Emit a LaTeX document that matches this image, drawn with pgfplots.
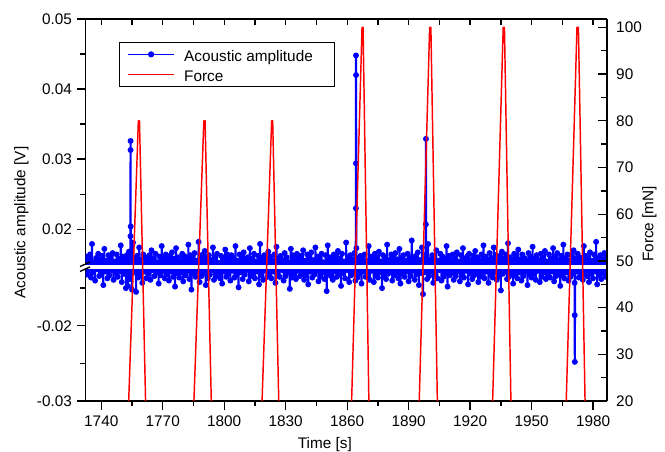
\documentclass[border=0pt]{standalone}
\usepackage{fontspec}
\setmainfont{Liberation Sans}
\usepackage{pgfplots}
\usepackage{pgfplotstable}
\pgfplotsset{compat=1.18}

\definecolor{ablue}{RGB}{0,0,255}
\definecolor{fred}{RGB}{255,0,0}

% acoustic amplitude: time [s], amplitude [V]
\pgfplotstableread[row sep=\\]{
t y\\
1732.5 0.0161\\ 1733 -0.0132\\ 1733.5 0.0156\\ 1734 -0.0127\\ 1734.5 0.0164\\ 1735 -0.0136\\ 1735.5 0.0179\\ 1736 -0.0129\\ 1736.5 0.0153\\ 1737 -0.0140\\
1737.5 0.0159\\ 1738 -0.0125\\ 1738.5 0.0165\\ 1739 -0.0134\\ 1739.5 0.0157\\ 1740 -0.0131\\ 1740.5 0.0162\\ 1741 -0.0146\\ 1741.5 0.0172\\ 1742 -0.0128\\
1742.5 0.0155\\ 1743 -0.0137\\ 1743.5 0.0163\\ 1744 -0.0133\\ 1744.5 0.0160\\ 1745 -0.0126\\ 1745.5 0.0166\\ 1746 -0.0139\\ 1746.5 0.0154\\ 1747 -0.0130\\
1747.5 0.0164\\ 1748 -0.0135\\ 1748.5 0.0158\\ 1749 -0.0128\\ 1749.5 0.0177\\ 1750 -0.0142\\ 1750.5 0.0161\\ 1751 -0.0131\\ 1751.5 0.0156\\ 1752 -0.0150\\
1752.5 0.0163\\ 1753 -0.0147\\ 1753.5 0.0168\\ 1754 -0.0138\\
1754.25 0.0190\\ 1754.3 0.0313\\ 1754.3 0.0326\\ 1754.35 0.0204\\
1754.5 0.0165\\ 1755 -0.0152\\ 1755.5 0.0181\\ 1756 -0.0129\\ 1756.5 0.0159\\ 1757 -0.0155\\
1757.5 0.0162\\ 1758 -0.0136\\ 1758.5 0.0174\\ 1759 -0.0132\\ 1759.5 0.0157\\ 1760 -0.0143\\ 1760.5 0.0164\\ 1761 -0.0128\\ 1761.5 0.0160\\ 1762 -0.0137\\
1762.5 0.0155\\ 1763 -0.0131\\ 1763.5 0.0163\\ 1764 -0.0139\\ 1764.5 0.0170\\ 1765 -0.0126\\ 1765.5 0.0158\\ 1766 -0.0134\\ 1766.5 0.0165\\ 1767 -0.0129\\
1767.5 0.0153\\ 1768 -0.0144\\ 1768.5 0.0161\\ 1769 -0.0133\\ 1769.5 0.0176\\ 1770 -0.0127\\ 1770.5 0.0159\\ 1771 -0.0137\\ 1771.5 0.0164\\ 1772 -0.0132\\
1772.5 0.0156\\ 1773 -0.0140\\ 1773.5 0.0162\\ 1774 -0.0128\\ 1774.5 0.0167\\ 1775 -0.0135\\ 1775.5 0.0158\\ 1776 -0.0148\\ 1776.5 0.0173\\ 1777 -0.0130\\
1777.5 0.0160\\ 1778 -0.0136\\ 1778.5 0.0154\\ 1779 -0.0129\\ 1779.5 0.0165\\ 1780 -0.0141\\ 1780.5 0.0162\\ 1781 -0.0133\\ 1781.5 0.0157\\ 1782 -0.0127\\
1782.5 0.0178\\ 1783 -0.0138\\ 1783.5 0.0163\\ 1784 -0.0152\\ 1784.5 0.0159\\ 1785 -0.0131\\ 1785.5 0.0166\\ 1786 -0.0135\\ 1786.5 0.0155\\ 1787 -0.0128\\
1787.5 0.0182\\ 1788 -0.0142\\ 1788.5 0.0161\\ 1789 -0.0134\\ 1789.5 0.0164\\ 1790 -0.0130\\ 1790.5 0.0169\\ 1791 -0.0146\\ 1791.5 0.0158\\ 1792 -0.0137\\
1792.5 0.0163\\ 1793 -0.0132\\ 1793.5 0.0156\\ 1794 -0.0126\\ 1794.5 0.0174\\ 1795 -0.0139\\ 1795.5 0.0160\\ 1796 -0.0134\\ 1796.5 0.0165\\ 1797 -0.0129\\
1797.5 0.0152\\ 1798 -0.0137\\ 1798.5 0.0162\\ 1799 -0.0144\\ 1799.5 0.0158\\ 1800 -0.0128\\ 1800.5 0.0171\\ 1801 -0.0135\\ 1801.5 0.0164\\ 1802 -0.0131\\
1802.5 0.0157\\ 1803 -0.0140\\ 1803.5 0.0163\\ 1804 -0.0127\\ 1804.5 0.0159\\ 1805 -0.0136\\ 1805.5 0.0176\\ 1806 -0.0133\\ 1806.5 0.0155\\ 1807 -0.0149\\
1807.5 0.0164\\ 1808 -0.0129\\ 1808.5 0.0161\\ 1809 -0.0138\\ 1809.5 0.0167\\ 1810 -0.0132\\ 1810.5 0.0156\\ 1811 -0.0126\\ 1811.5 0.0160\\ 1812 -0.0141\\
1812.5 0.0173\\ 1813 -0.0134\\ 1813.5 0.0158\\ 1814 -0.0130\\ 1814.5 0.0165\\ 1815 -0.0137\\ 1815.5 0.0154\\ 1816 -0.0128\\ 1816.5 0.0162\\ 1817 -0.0145\\
1817.5 0.0179\\ 1818 -0.0133\\ 1818.5 0.0159\\ 1819 -0.0139\\ 1819.5 0.0163\\ 1820 -0.0127\\ 1820.5 0.0157\\ 1821 -0.0135\\ 1821.5 0.0168\\ 1822 -0.0131\\
1822.5 0.0161\\ 1823 -0.0137\\ 1823.5 0.0155\\ 1824 -0.0128\\ 1824.5 0.0164\\ 1825 -0.0143\\ 1825.5 0.0175\\ 1826 -0.0132\\ 1826.5 0.0158\\ 1827 -0.0135\\
1827.5 0.0162\\ 1828 -0.0126\\ 1828.5 0.0156\\ 1829 -0.0140\\ 1829.5 0.0166\\ 1830 -0.0134\\ 1830.5 0.0160\\ 1831 -0.0129\\ 1831.5 0.0153\\ 1832 -0.0151\\
1832.5 0.0172\\ 1833 -0.0136\\ 1833.5 0.0163\\ 1834 -0.0131\\ 1834.5 0.0159\\ 1835 -0.0138\\ 1835.5 0.0165\\ 1836 -0.0127\\ 1836.5 0.0157\\ 1837 -0.0134\\
1837.5 0.0162\\ 1838 -0.0130\\ 1838.5 0.0170\\ 1839 -0.0139\\ 1839.5 0.0155\\ 1840 -0.0133\\ 1840.5 0.0164\\ 1841 -0.0145\\ 1841.5 0.0159\\ 1842 -0.0128\\
1842.5 0.0167\\ 1843 -0.0136\\ 1843.5 0.0156\\ 1844 -0.0132\\ 1844.5 0.0174\\ 1845 -0.0127\\ 1845.5 0.0161\\ 1846 -0.0141\\ 1846.5 0.0158\\ 1847 -0.0135\\
1847.5 0.0165\\ 1848 -0.0129\\ 1848.5 0.0153\\ 1849 -0.0138\\ 1849.5 0.0163\\ 1850 -0.0154\\ 1850.5 0.0177\\ 1851 -0.0131\\ 1851.5 0.0160\\ 1852 -0.0134\\
1852.5 0.0156\\ 1853 -0.0139\\ 1853.5 0.0164\\ 1854 -0.0128\\ 1854.5 0.0162\\ 1855 -0.0135\\ 1855.5 0.0169\\ 1856 -0.0132\\ 1856.5 0.0158\\ 1857 -0.0147\\
1857.5 0.0165\\ 1858 -0.0130\\ 1858.5 0.0154\\ 1859 -0.0137\\ 1859.5 0.0181\\ 1860 -0.0126\\ 1860.5 0.0160\\ 1861 -0.0142\\ 1861.5 0.0163\\ 1862 -0.0133\\
1862.5 0.0157\\ 1863 -0.0129\\ 1863.5 0.0166\\ 1864 -0.0140\\
1864.25 0.0230\\ 1864.3 0.0294\\ 1864.3 0.0448\\ 1864.35 0.0420\\
1864.5 0.0173\\ 1865 -0.0136\\ 1865.5 0.0159\\ 1866 -0.0131\\ 1866.5 0.0162\\ 1867 -0.0144\\
1867.5 0.0158\\ 1868 -0.0128\\ 1868.5 0.0164\\ 1869 -0.0135\\ 1869.5 0.0155\\ 1870 -0.0133\\ 1870.5 0.0176\\ 1871 -0.0139\\ 1871.5 0.0161\\ 1872 -0.0127\\
1872.5 0.0157\\ 1873 -0.0142\\ 1873.5 0.0165\\ 1874 -0.0132\\ 1874.5 0.0160\\ 1875 -0.0136\\ 1875.5 0.0168\\ 1876 -0.0129\\ 1876.5 0.0154\\ 1877 -0.0150\\
1877.5 0.0163\\ 1878 -0.0134\\ 1878.5 0.0159\\ 1879 -0.0138\\ 1879.5 0.0178\\ 1880 -0.0131\\ 1880.5 0.0156\\ 1881 -0.0127\\ 1881.5 0.0164\\ 1882 -0.0140\\
1882.5 0.0161\\ 1883 -0.0133\\ 1883.5 0.0166\\ 1884 -0.0129\\ 1884.5 0.0157\\ 1885 -0.0137\\ 1885.5 0.0172\\ 1886 -0.0144\\ 1886.5 0.0159\\ 1887 -0.0131\\
1887.5 0.0163\\ 1888 -0.0135\\ 1888.5 0.0155\\ 1889 -0.0128\\ 1889.5 0.0165\\ 1890 -0.0141\\ 1890.5 0.0160\\ 1891 -0.0134\\ 1891.5 0.0184\\ 1892 -0.0127\\
1892.5 0.0158\\ 1893 -0.0139\\ 1893.5 0.0162\\ 1894 -0.0132\\ 1894.5 0.0167\\ 1895 -0.0146\\ 1895.5 0.0156\\ 1896 -0.0130\\ 1896.5 0.0174\\ 1897 -0.0158\\
1897.5 0.0160\\ 1898 -0.0129\\
1898.4 0.0207\\ 1898.45 0.0329\\
1898.5 0.0164\\ 1899 -0.0138\\ 1899.5 0.0179\\ 1900 -0.0134\\ 1900.5 0.0157\\ 1901 -0.0128\\ 1901.5 0.0163\\ 1902 -0.0143\\
1902.5 0.0159\\ 1903 -0.0132\\ 1903.5 0.0170\\ 1904 -0.0137\\ 1904.5 0.0155\\ 1905 -0.0126\\ 1905.5 0.0165\\ 1906 -0.0140\\ 1906.5 0.0161\\ 1907 -0.0135\\
1907.5 0.0158\\ 1908 -0.0131\\ 1908.5 0.0176\\ 1909 -0.0148\\ 1909.5 0.0162\\ 1910 -0.0133\\ 1910.5 0.0156\\ 1911 -0.0129\\ 1911.5 0.0164\\ 1912 -0.0139\\
1912.5 0.0159\\ 1913 -0.0134\\ 1913.5 0.0167\\ 1914 -0.0128\\ 1914.5 0.0154\\ 1915 -0.0141\\ 1915.5 0.0163\\ 1916 -0.0132\\ 1916.5 0.0173\\ 1917 -0.0136\\
1917.5 0.0158\\ 1918 -0.0127\\ 1918.5 0.0161\\ 1919 -0.0145\\ 1919.5 0.0165\\ 1920 -0.0131\\ 1920.5 0.0156\\ 1921 -0.0138\\ 1921.5 0.0162\\ 1922 -0.0133\\
1922.5 0.0169\\ 1923 -0.0129\\ 1923.5 0.0160\\ 1924 -0.0142\\ 1924.5 0.0155\\ 1925 -0.0135\\ 1925.5 0.0164\\ 1926 -0.0130\\ 1926.5 0.0177\\ 1927 -0.0137\\
1927.5 0.0161\\ 1928 -0.0128\\ 1928.5 0.0157\\ 1929 -0.0143\\ 1929.5 0.0166\\ 1930 -0.0132\\ 1930.5 0.0159\\ 1931 -0.0136\\ 1931.5 0.0174\\ 1932 -0.0129\\
1932.5 0.0163\\ 1933 -0.0139\\ 1933.5 0.0155\\ 1934 -0.0134\\ 1934.5 0.0162\\ 1935 -0.0153\\ 1935.5 0.0168\\ 1936 -0.0131\\ 1936.5 0.0158\\ 1937 -0.0127\\
1937.5 0.0164\\ 1938 -0.0138\\ 1938.5 0.0180\\ 1939 -0.0135\\ 1939.5 0.0160\\ 1940 -0.0130\\ 1940.5 0.0156\\ 1941 -0.0144\\ 1941.5 0.0165\\ 1942 -0.0133\\
1942.5 0.0162\\ 1943 -0.0137\\ 1943.5 0.0171\\ 1944 -0.0129\\ 1944.5 0.0157\\ 1945 -0.0140\\ 1945.5 0.0164\\ 1946 -0.0134\\ 1946.5 0.0159\\ 1947 -0.0128\\
1947.5 0.0155\\ 1948 -0.0146\\ 1948.5 0.0166\\ 1949 -0.0132\\ 1949.5 0.0161\\ 1950 -0.0136\\ 1950.5 0.0175\\ 1951 -0.0131\\ 1951.5 0.0158\\ 1952 -0.0139\\
1952.5 0.0163\\ 1953 -0.0127\\ 1953.5 0.0156\\ 1954 -0.0142\\ 1954.5 0.0165\\ 1955 -0.0135\\ 1955.5 0.0160\\ 1956 -0.0129\\ 1956.5 0.0169\\ 1957 -0.0138\\
1957.5 0.0154\\ 1958 -0.0132\\ 1958.5 0.0164\\ 1959 -0.0136\\ 1959.5 0.0158\\ 1960 -0.0128\\ 1960.5 0.0173\\ 1961 -0.0141\\ 1961.5 0.0161\\ 1962 -0.0134\\
1962.5 0.0166\\ 1963 -0.0130\\ 1963.5 0.0156\\ 1964 -0.0147\\ 1964.5 0.0162\\ 1965 -0.0133\\ 1965.5 0.0178\\ 1966 -0.0137\\ 1966.5 0.0159\\ 1967 -0.0129\\
1967.5 0.0164\\ 1968 -0.0140\\ 1968.5 0.0155\\ 1969 -0.0135\\ 1969.5 0.0163\\ 1970 -0.0131\\ 1970.5 0.0170\\ 1971 -0.0143\\
1971.05 -0.0186\\ 1971.1 -0.0248\\
1971.5 0.0158\\ 1972 -0.0128\\
1972.5 0.0165\\ 1973 -0.0136\\ 1973.5 0.0160\\ 1974 -0.0132\\ 1974.5 0.0156\\ 1975 -0.0139\\ 1975.5 0.0176\\ 1976 -0.0129\\ 1976.5 0.0162\\ 1977 -0.0134\\
1977.5 0.0158\\ 1978 -0.0142\\ 1978.5 0.0167\\ 1979 -0.0131\\ 1979.5 0.0155\\ 1980 -0.0137\\ 1980.5 0.0164\\ 1981 -0.0128\\ 1981.5 0.0182\\ 1982 -0.0145\\
1982.5 0.0159\\ 1983 -0.0133\\ 1983.5 0.0163\\ 1984 -0.0138\\ 1984.5 0.0157\\ 1985 -0.0130\\ 1985.5 0.0166\\ 1986 -0.0135\\ 1986.5 0.0161\\
}\acoustic

\pgfplotsset{
  frame/.style={
    scale only axis, width=391.125pt, anchor=south west,
    xmin=1732.3, xmax=1986.8,
    axis line style={line width=1.1pt, black},
    tick style={line width=1.0pt, black},
    /pgf/number format/assume math mode=true,
    /pgf/number format/1000 sep={},
    clip marker paths=true,
  },
  seg/.style={
    frame, axis x line=none, axis y line*=left, tick align=outside,
    major tick length=6.2pt, minor tick length=3.75pt,
    scaled y ticks=false,
    yticklabel style={/pgf/number format/.cd, fixed, fixed zerofill, precision=2},
  },
  acoustic/.style={ablue, line width=1.6pt, mark=*, mark size=1.8pt, mark options={fill=ablue, line width=0.8pt}},
}

\begin{document}
\fontsize{11.5pt}{13.8pt}\selectfont
\begin{tikzpicture}
\path[use as bounding box] (0,0) rectangle (498.75pt,339pt);

% upper segment of the broken amplitude axis
\begin{axis}[seg, at={(64.125pt,140.775pt)}, height=183.975pt,
  ymin=0.015, ymax=0.05, ytick={0.02,0.03,0.04,0.05}, minor ytick={0.025,0.035,0.045},
  ylabel={Acoustic amplitude [V]},
  ylabel style={at={(axis description cs:-0.1228,0.1703)}, anchor=center}]
\addplot[acoustic] table[x=t, y=y] {\acoustic};
\end{axis}

% lower segment
\begin{axis}[seg, at={(64.125pt,38.25pt)}, height=98.775pt,
  ymin=-0.03, ymax=-0.0125, ytick={-0.03,-0.02}, minor ytick={-0.025,-0.015}]
\addplot[acoustic] table[x=t, y=y] {\acoustic};
\end{axis}

% bottom time axis
\begin{axis}[frame, at={(64.125pt,38.25pt)}, height=286.5pt,
  ymin=20, ymax=101.8, axis y line=none, axis x line*=bottom, tick align=outside,
  major tick length=6.75pt, minor tick length=3.4pt,
  xtick={1740,1770,...,1980}, minor x tick num=1,
  xlabel={Time [s]},
  xlabel style={at={(axis description cs:0.4589,-0.1244)}, anchor=base}]
\end{axis}

% top axis, ticks only
\begin{axis}[frame, at={(64.125pt,38.25pt)}, height=286.5pt,
  ymin=20, ymax=101.8, axis y line=none, axis x line*=top, tick align=inside,
  major tick length=4.5pt, minor tick length=4.5pt,
  xtick={1740,1770,...,1980}, minor x tick num=1, xticklabels={}]
\end{axis}

% force, right axis
\begin{axis}[frame, at={(64.125pt,38.25pt)}, height=286.5pt,
  ymin=20, ymax=101.8, axis x line=none, axis y line*=right, tick align=inside,
  major tick length=7pt, minor tick length=4.5pt,
  ytick={20,30,...,100}, minor y tick num=1,
  yticklabel style={xshift=2.9pt},
  ylabel={Force [mN]},
  ylabel style={at={(axis description cs:1.0814,0.4634)}, anchor=center},
  legend cell align=left,
  legend style={at={(axis description cs:0.0648,0.939)}, anchor=north west,
    draw=black, line width=0.6pt, fill=white,
    inner xsep=5.5pt, inner ysep=3.25pt, row sep=4pt,
    nodes={inner sep=0pt, text height=11pt, text depth=0pt},
    /tikz/every odd column/.append style={column sep=6.75pt}},
  legend image code/.code={\draw[mark repeat=2, mark phase=2, #1] plot coordinates {(0pt,0pt) (17.5pt,0pt) (35pt,0pt)};}]
\addlegendimage{ablue, line width=0.8pt, mark=*, mark size=1.9pt, mark options={fill=ablue}}
\addlegendentry{Acoustic amplitude\kern11pt}
\addplot[fred, line width=1.1pt, line join=round] coordinates {
  (1725,0)
  (1751.8,0) (1758.1,80) (1758.65,80) (1762.6,0)
  (1783.6,0) (1790.05,80) (1790.65,80) (1794.7,0)
  (1816.9,0) (1823.15,80) (1823.65,80) (1827.6,0)
  (1860.9,0) (1867.25,100) (1867.75,100) (1871.3,0)
  (1893.9,0) (1900.25,100) (1900.85,100) (1904.8,0)
  (1929.7,0) (1936.15,100) (1936.75,100) (1940.7,0)
  (1965.6,0) (1972.15,100) (1972.85,100) (1976.9,0)
  (1995,0)
};
\addlegendentry{Force}
\end{axis}

% break marks on the left axis
\draw[line width=1pt] (60pt,139.1pt) -- (67.5pt,142.5pt);
\draw[line width=1pt] (60pt,135.4pt) -- (67.5pt,138.8pt);
\end{tikzpicture}
\end{document}
